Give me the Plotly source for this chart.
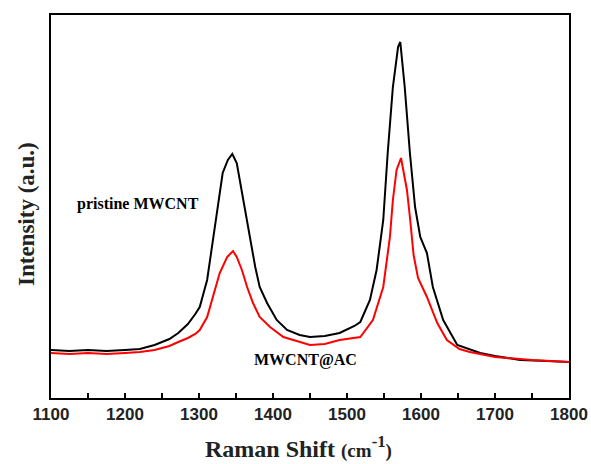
import plotly.graph_objects as go

# Raman shift (cm^-1) and intensity (a.u.)
pristine_x = [1100, 1125, 1150, 1175, 1200, 1220, 1240, 1260, 1272, 1285, 1295, 1301, 1311, 1319, 1326,
              1332, 1339, 1345, 1351, 1355, 1362, 1369, 1376, 1382, 1392, 1405, 1419, 1436, 1450,
              1470, 1490, 1510, 1518, 1531, 1540, 1549, 1555, 1562, 1569, 1572, 1578, 1585, 1592,
              1599, 1608, 1616, 1630, 1649, 1666, 1680, 1700, 1734, 1770, 1800]
pristine_y = [48, 47, 48, 47, 48, 49, 53, 59, 65, 74, 84, 91, 118, 158, 198,
              225, 238, 244, 235, 218, 191, 161, 131, 111, 95, 78, 68, 63, 61,
              62, 65, 72, 76, 98, 128, 178, 245, 311, 351, 356, 311, 245, 191,
              161, 145, 111, 78, 53, 49, 45, 42, 38, 37, 36]

ac_x = [1100, 1125, 1150, 1175, 1200, 1220, 1240, 1260, 1272, 1285, 1295, 1301, 1311, 1319, 1328,
        1338, 1346, 1351, 1358, 1365, 1373, 1382, 1396, 1414, 1436, 1450, 1470, 1490, 1518,
        1535, 1549, 1558, 1562, 1567, 1573, 1581, 1585, 1590, 1596, 1602, 1608, 1622, 1635,
        1652, 1666, 1700, 1750, 1800]
ac_y = [45, 44, 45, 44, 45, 46, 48, 52, 56, 60, 64, 68, 81, 101, 125,
        141, 147, 141, 128, 111, 95, 81, 71, 61, 56, 53, 54, 58, 61,
        78, 111, 161, 198, 228, 240, 208, 181, 143, 120, 110, 101, 75, 58,
        49, 46, 41, 38, 36]

x_ticks = [1100, 1200, 1300, 1400, 1500, 1600, 1700, 1800]

fig = go.Figure()
fig.add_trace(go.Scatter(x=pristine_x, y=pristine_y, mode="lines",
                         line=dict(color="#000000", width=2), name="pristine MWCNT"))
fig.add_trace(go.Scatter(x=ac_x, y=ac_y, mode="lines",
                         line=dict(color="#ff0000", width=2), name="MWCNT@AC"))

fig.update_layout(
    width=591, height=464,
    margin=dict(l=51, r=22, t=15, b=66),
    paper_bgcolor="white", plot_bgcolor="white",
    showlegend=False,
    xaxis=dict(range=[1100, 1800], tickvals=x_ticks, ticktext=["<b>%d</b>" % v for v in x_ticks],
               ticks="inside", ticklen=5, tickwidth=2, tickcolor="black",
               minor=dict(dtick=50, tick0=1100, ticks="inside", ticklen=5, tickwidth=2, tickcolor="black"),
               showline=True, linecolor="black", linewidth=2, mirror=True,
               showgrid=False, zeroline=False, automargin=False,
               tickfont=dict(family="Liberation Sans", size=17, color="#222222")),
    yaxis=dict(range=[0, 383], showticklabels=False, ticks="",
               showline=True, linecolor="black", linewidth=2, mirror=True,
               showgrid=False, zeroline=False, automargin=False),
    annotations=[
        dict(text="<b>pristine MWCNT</b>", xref="paper", yref="paper", xanchor="center", yanchor="middle",
             x=(138 - 51) / 518, y=(398 - 204) / 383, showarrow=False,
             font=dict(family="Liberation Serif", size=16, color="black")),
        dict(text="<b>MWCNT@AC</b>", xref="paper", yref="paper", xanchor="center", yanchor="middle",
             x=(305 - 51) / 518, y=(398 - 360) / 383, showarrow=False,
             font=dict(family="Liberation Serif", size=16, color="black")),
        dict(text="<b>Raman Shift <span style='font-size:19px'>(cm</span><sup>-1</sup><span style='font-size:19px'>)</span></b>",
             xref="paper", yref="paper", xanchor="center", yanchor="middle",
             x=(298 - 51) / 518, y=(398 - 447) / 383,
             showarrow=False, font=dict(family="Liberation Serif", size=24, color="#222222")),
        dict(text="<b>Intensity (a.u.)</b>", xref="paper", yref="paper", xanchor="center", yanchor="middle",
             x=(26 - 51) / 518, y=(398 - 214) / 383, textangle=-90,
             showarrow=False, font=dict(family="Liberation Serif", size=23, color="#222222")),
    ],
)

fig.write_html("out.html")
